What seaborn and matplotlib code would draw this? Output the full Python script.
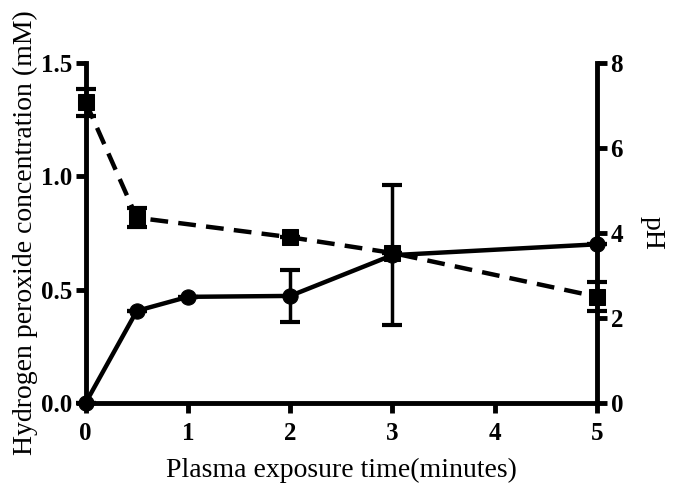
import matplotlib
matplotlib.use("Agg")
import matplotlib.pyplot as plt
import seaborn as sns
import pandas as pd

time_min = [0, 0.5, 1, 2, 3, 5]
h2o2_mM = [0.0, 0.406, 0.468, 0.472, 0.652, 0.70]
h2o2_err = [0.0, 0.0, 0.0, 0.115, 0.31, 0.0]
ph_vals = [7.08, 4.36, 3.90, 3.53, 2.50]
ph_time = [0, 0.5, 2, 3, 5]
ph_err = [0.32, 0.22, 0.0, 0.0, 0.34]

sns.set_theme(style="ticks")
plt.rcParams['font.family'] = ['Liberation Serif', 'DejaVu Serif']

fig = plt.figure(figsize=(6.75, 4.9), dpi=100)
ax = fig.add_axes([0.127, 0.178, 0.757, 0.693])
ax2 = ax.twinx()

df1 = pd.DataFrame({"t": time_min, "v": h2o2_mM})
df2 = pd.DataFrame({"t": ph_time, "v": ph_vals})

sns.lineplot(data=df1, x="t", y="v", ax=ax, color="black", lw=3.2, marker="o",
             markersize=11, markeredgecolor="black", clip_on=False, zorder=5)
ax.errorbar(time_min, h2o2_mM, yerr=h2o2_err, fmt="none", ecolor="black",
            elinewidth=2.5, capsize=7, capthick=3, clip_on=False, zorder=5)

sns.lineplot(data=df2, x="t", y="v", ax=ax2, color="black", lw=3.2, marker="s",
             markersize=11, markeredgecolor="black", clip_on=False, zorder=5)
ax2.lines[-1].set_dashes([4, 2.3])
ax2.errorbar(ph_time, ph_vals, yerr=ph_err, fmt="none", ecolor="black",
             elinewidth=2.5, capsize=7, capthick=3, clip_on=False, zorder=5)

ax.set_xlim(0, 5)
ax.set_ylim(0, 1.5)
ax2.set_ylim(0, 8)
ax.set_xticks([0, 1, 2, 3, 4, 5])
ax.set_yticks([0.0, 0.5, 1.0, 1.5])
ax.set_yticklabels(["0.0", "0.5", "1.0", "1.5"])
ax2.set_yticks([0, 2, 4, 6, 8])

for a in (ax, ax2):
    a.spines["top"].set_visible(False)
    for s in ("left", "bottom", "right"):
        a.spines[s].set_linewidth(3.5)
        a.spines[s].set_color("black")
    a.tick_params(axis="both", direction="out", length=7, width=3.5, labelsize=18,
                  colors="black", pad=3)
    for lab in a.get_xticklabels() + a.get_yticklabels():
        lab.set_fontweight("bold")
ax.tick_params(axis="x", pad=7)
ax.spines["right"].set_visible(False)
ax2.spines["left"].set_visible(False)
ax2.spines["bottom"].set_visible(False)

ax.set_xlabel("Plasma exposure time(minutes)", fontsize=20, color="black", labelpad=9)
ax.set_ylabel("Hydrogen peroxide concentration (mM)", fontsize=20, color="black", labelpad=2)
ax2.set_ylabel("pH", fontsize=20, color="black", rotation=270, labelpad=30)

fig.savefig("out.png", dpi=100)
